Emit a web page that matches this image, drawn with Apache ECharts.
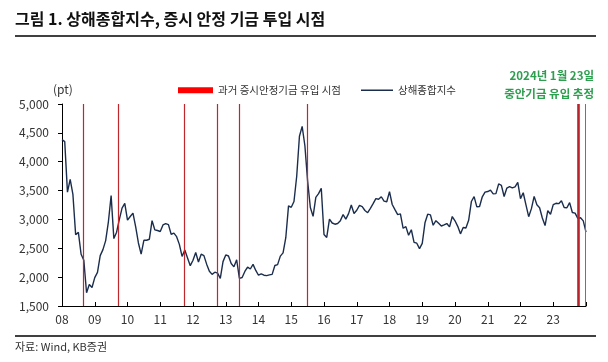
<!DOCTYPE html>
<html>
<head>
<meta charset="utf-8">
<script src="https://cdn.jsdelivr.net/npm/echarts@6/dist/echarts.min.js"></script>
<style>
  html, body { margin: 0; padding: 0; background: #fff; }
  #chart { width: 608px; height: 362px; }
</style>
</head>
<body>
<div id="chart"></div>
<script>
  // 상해종합지수 월말 (2008.01 ~ 2024.01)
  const startYear = 2008;
  const shIndex = [
    4383, 4349, 3473, 3693, 3433, 2736, 2775, 2397, 2293, 1729, 1871, 1821,
    1991, 2082, 2373, 2477, 2633, 2959, 3412, 2668, 2779, 2996, 3195, 3277,
    2989, 3051, 3110, 2871, 2592, 2398, 2638, 2639, 2656, 2979, 2820, 2808,
    2791, 2905, 2928, 2911, 2743, 2762, 2701, 2568, 2359, 2469, 2333, 2199,
    2293, 2428, 2263, 2397, 2373, 2225, 2103, 2048, 2086, 2069, 1980, 2269,
    2385, 2366, 2237, 2178, 2301, 1979, 1994, 2098, 2175, 2141, 2221, 2116,
    2033, 2056, 2033, 2026, 2039, 2048, 2202, 2217, 2364, 2420, 2683, 3235,
    3210, 3310, 3748, 4442, 4612, 4277, 3664, 3206, 3053, 3383, 3446, 3539,
    2738, 2688, 3004, 2938, 2917, 2930, 2979, 3085, 3005, 3100, 3250, 3104,
    3159, 3242, 3223, 3155, 3117, 3192, 3273, 3361, 3349, 3393, 3317, 3307,
    3481, 3259, 3169, 3082, 3095, 2847, 2876, 2725, 2821, 2603, 2588, 2494,
    2585, 2941, 3091, 3078, 2899, 2979, 2933, 2886, 2905, 2929, 2871, 3050,
    2977, 2880, 2750, 2860, 2852, 2985, 3310, 3396, 3218, 3225, 3392, 3473,
    3483, 3509, 3442, 3447, 3615, 3591, 3397, 3544, 3568, 3547, 3564, 3640,
    3361, 3462, 3253, 3047, 3187, 3399, 3253, 3202, 3024, 2893, 3151, 3089,
    3256, 3280, 3273, 3323, 3205, 3202, 3291, 3120, 3110, 3018, 3030, 2975,
    2780
  ];
  // 과거 증시안정기금 유입 시점 (연 단위 위치)
  const fundDates = [2008.64, 2009.72, 2011.73, 2012.74, 2013.40, 2015.49];
  const lastFundDate = 2023.76;
  const estDate = 2023.98;
  const yTicks = [1500, 5000, 500];

  const lineData = shIndex.map((v, i) => [startYear + i / 12, v]);
  const font = 'Noto Sans CJK KR';

  let myChart = echarts.init(document.getElementById('chart'));
  myChart.setOption({
    animation: false,
    textStyle: { fontFamily: font },
    grid: { left: 62, right: 22, top: 104, bottom: 56 },
    legend: [{
      left: 173, top: 80,
      itemWidth: 35, itemHeight: 6,
      textStyle: { fontSize: 10.5, color: '#333', fontFamily: font },
      data: [{ name: '과거 증시안정기금 유입 시점', icon: 'rect', itemStyle: { color: '#ff0000' } }]
    }, {
      left: 356, top: 80,
      itemWidth: 32, itemHeight: 1.5,
      textStyle: { fontSize: 10.5, color: '#333', fontFamily: font },
      data: [{ name: '상해종합지수', icon: 'rect', itemStyle: { color: '#1b2d4d' } }]
    }],
    xAxis: {
      type: 'value',
      min: 2008, max: 2024, interval: 1,
      axisLine: { lineStyle: { color: '#000', width: 1 } },
      axisTick: { show: true, inside: true, length: 4, lineStyle: { color: '#000' } },
      axisLabel: {
        margin: 7, fontSize: 12, color: '#333',
        formatter: v => v < 2024 ? String(v).slice(2) : ''
      },
      splitLine: { show: false }
    },
    yAxis: {
      type: 'value',
      min: yTicks[0], max: yTicks[1], interval: yTicks[2],
      axisLine: { show: true, lineStyle: { color: '#000', width: 1 } },
      axisTick: { show: true, length: 4, lineStyle: { color: '#000' } },
      axisLabel: {
        margin: 13, fontSize: 12, color: '#333',
        formatter: v => v.toLocaleString('en-US')
      },
      splitLine: { show: false }
    },
    series: [{
      name: '과거 증시안정기금 유입 시점',
      type: 'line',
      data: [],
      itemStyle: { color: '#ff0000' },
      markLine: {
        silent: true,
        symbol: 'none',
        label: { show: false },
        lineStyle: { color: '#c0272d', width: 1.2, type: 'solid' },
        data: fundDates.map(d => ({ xAxis: d })).concat([
          { xAxis: lastFundDate, lineStyle: { color: '#b8232b', width: 2.6, type: 'solid' } },
          { xAxis: estDate, lineStyle: { color: '#2ea04b', width: 1, type: 'solid' } }
        ])
      }
    }, {
      name: '상해종합지수',
      type: 'line',
      data: lineData,
      showSymbol: false,
      lineStyle: { color: '#1b2d4d', width: 1.4 },
      itemStyle: { color: '#1b2d4d' },
      z: 3
    }],
    graphic: [
      { type: 'text', left: 15, top: 11,
        style: { text: '그림 1. 상해종합지수, 증시 안정 기금 투입 시점', fontSize: 16, fontWeight: 'bold', fill: '#111', fontFamily: font } },
      { type: 'line', shape: { x1: 15, y1: 36, x2: 596, y2: 36 }, style: { stroke: '#000', lineWidth: 1.5 } },
      { type: 'text', x: 53, y: 89,
        style: { text: '(pt)', fontSize: 12, fill: '#333', fontFamily: font, verticalAlign: 'middle' } },
      { type: 'text', x: 594, y: 76,
        style: { text: '2024년 1월 23일', fontSize: 11.5, fontWeight: 'bold', fill: '#2e9e4f', fontFamily: font, align: 'right', verticalAlign: 'middle' } },
      { type: 'text', x: 594, y: 94,
        style: { text: '중안기금 유입 추정', fontSize: 11.5, fontWeight: 'bold', fill: '#2e9e4f', fontFamily: font, align: 'right', verticalAlign: 'middle' } },
      { type: 'line', shape: { x1: 15, y1: 336, x2: 596, y2: 336 }, style: { stroke: '#000', lineWidth: 1.5 } },
      { type: 'text', x: 15, y: 347,
        style: { text: '자료: Wind, KB증권', fontSize: 11, fill: '#333', fontFamily: font, verticalAlign: 'middle' } }
    ]
  });
</script>
</body>
</html>
